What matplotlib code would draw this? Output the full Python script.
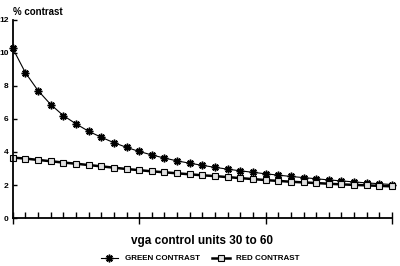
import matplotlib
matplotlib.use('Agg')
import matplotlib.pyplot as plt
from matplotlib.ticker import MultipleLocator

plt.rcParams['font.family'] = ['Liberation Sans', 'DejaVu Sans']
plt.rcParams['font.weight'] = 'bold'

# vga control units 30..60
units = list(range(30, 61))
green_contrast = [10.26, 8.79, 7.71, 6.87, 6.20, 5.70, 5.25, 4.89, 4.56, 4.28,
                  4.03, 3.82, 3.63, 3.46, 3.32, 3.19, 3.07, 2.96, 2.86, 2.77,
                  2.68, 2.60, 2.52, 2.45, 2.38, 2.31, 2.25, 2.19, 2.13, 2.08, 2.03]
red_contrast = [3.66, 3.60, 3.52, 3.44, 3.36, 3.29, 3.21, 3.13, 3.05, 2.97,
                2.90, 2.83, 2.77, 2.71, 2.65, 2.59, 2.54, 2.48, 2.42, 2.36,
                2.30, 2.25, 2.20, 2.16, 2.12, 2.08, 2.04, 2.01, 1.98, 1.95, 1.92]
y_ticks = [0, 2, 4, 6, 8, 10, 12]

fig = plt.figure(figsize=(4.0, 2.66), dpi=100)
ax = fig.add_axes([0.032, 0.18, 0.948, 0.746])

ax.plot(units, green_contrast, color='black', lw=0.8, marker=(8, 2, 0),
        ms=5.5, mew=1.1, label='GREEN CONTRAST', clip_on=False)
ax.plot(units, red_contrast, color='black', lw=1.8, marker='s', ms=4,
        mfc='#e0e0e0', mec='black', mew=0.8, label='RED CONTRAST', clip_on=False)

ax.set_xlim(30, 60)
ax.set_ylim(0, 12)
ax.set_yticks(y_ticks)
ax.set_yticklabels([str(v) for v in y_ticks], fontsize=6, fontweight='bold')
ax.tick_params(axis='y', direction='in', length=3, width=1, pad=3)

ax.xaxis.set_major_locator(MultipleLocator(10))
ax.xaxis.set_minor_locator(MultipleLocator(1))
ax.tick_params(axis='x', which='major', direction='inout', length=8, width=1,
               labelbottom=False)
ax.tick_params(axis='x', which='minor', direction='in', length=4, width=1)

for s in ['top', 'right']:
    ax.spines[s].set_visible(False)
for s in ['left', 'bottom']:
    ax.spines[s].set_linewidth(1.3)

fig.text(0.032, 0.955, '% contrast', fontsize=7, fontweight='bold',
         ha='left', va='center')
fig.text(0.505, 0.095, 'vga control units 30 to 60', fontsize=8.5,
         fontweight='bold', ha='center', va='center')

fig.legend(loc='center', bbox_to_anchor=(0.5, 0.028), ncol=2, frameon=False,
           handlelength=2.2, columnspacing=1.5, borderpad=0.1,
           prop={'weight': 'bold', 'size': 5.8})

fig.savefig('out.png', dpi=100)
